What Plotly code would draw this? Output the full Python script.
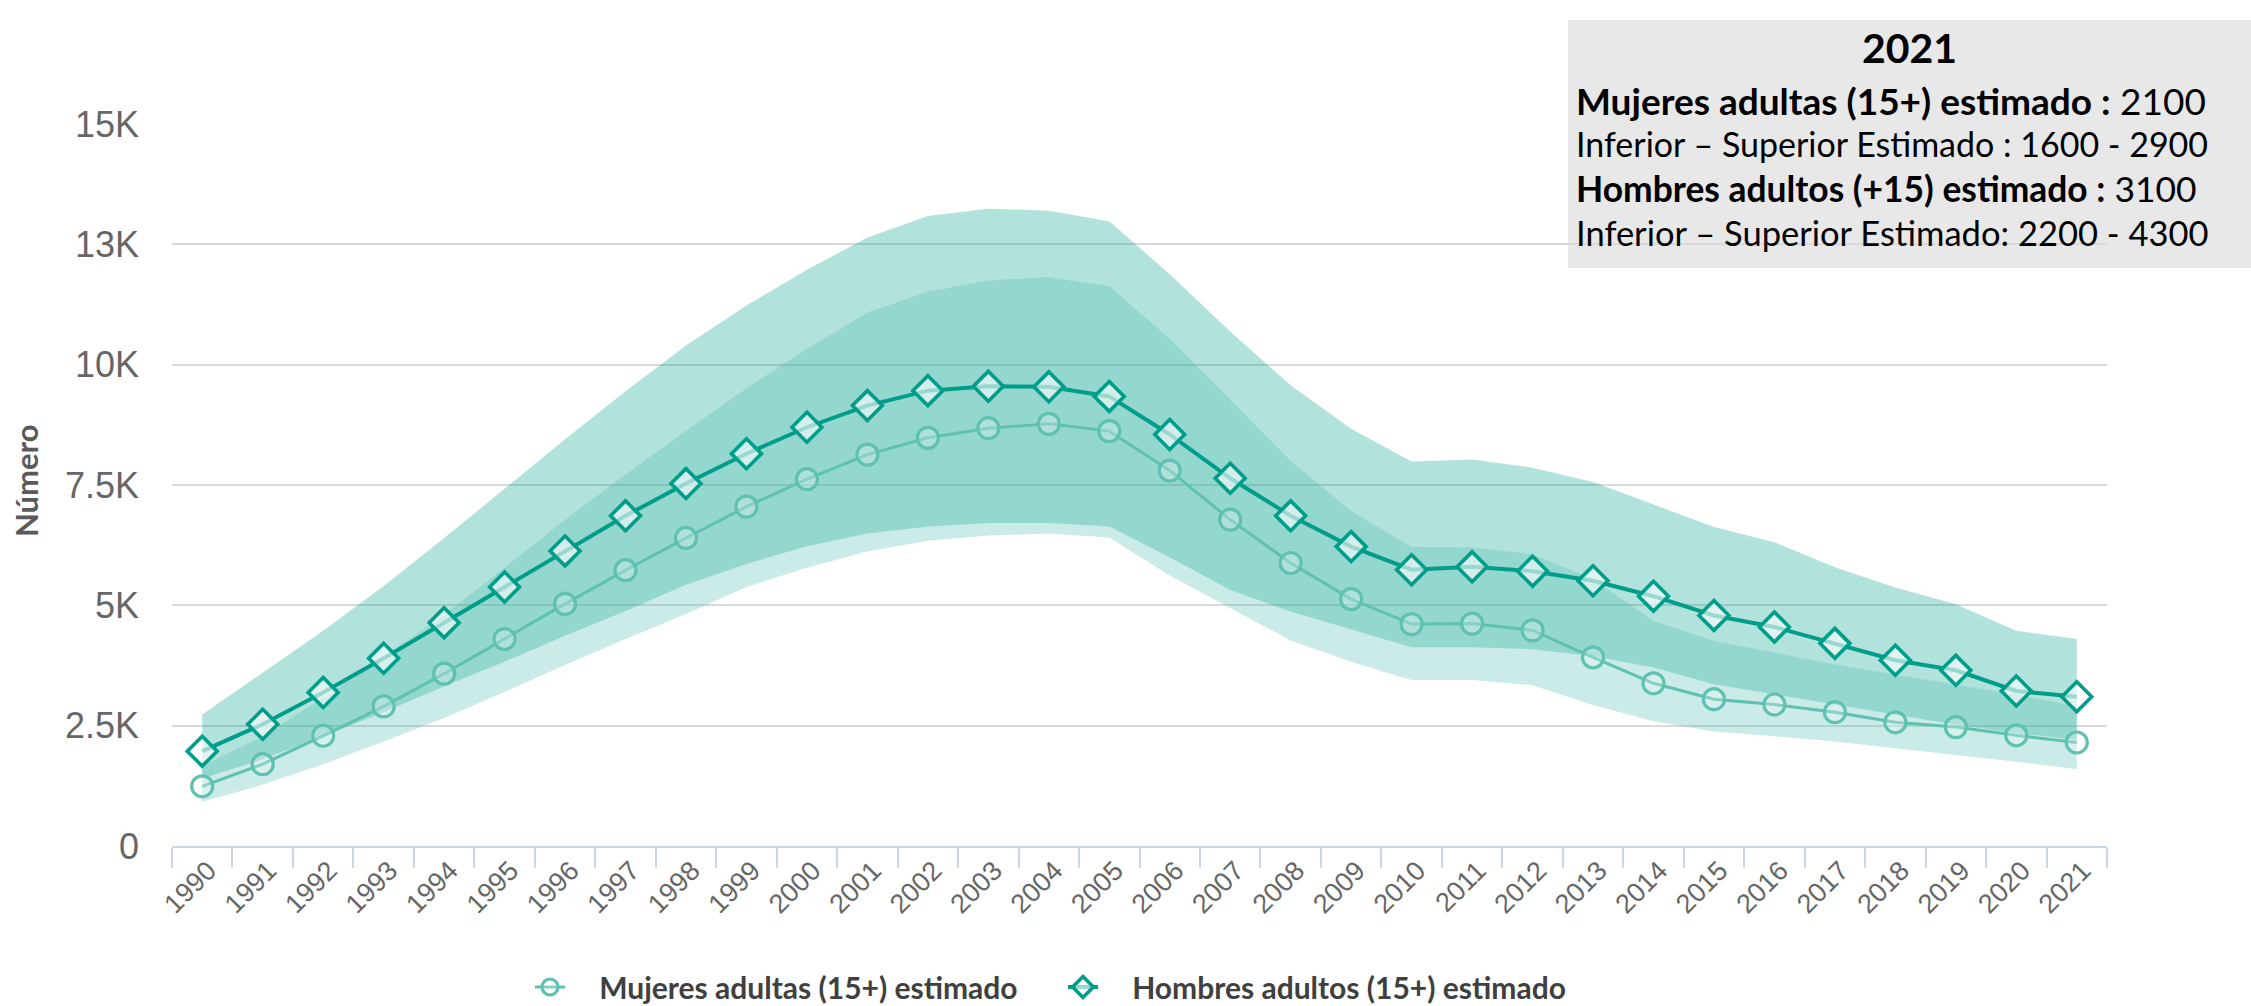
import plotly.graph_objects as go

# ---------------- data ----------------
years = list(range(1990, 2022))
year_labels = [str(y) for y in years]

women = [1240, 1700, 2290, 2900, 3580, 4300, 5030, 5730, 6400, 7050, 7620, 8130,
         8480, 8680, 8770, 8620, 7800, 6780, 5880, 5130, 4610, 4620, 4480, 3920,
         3380, 3050, 2940, 2780, 2570, 2470, 2300, 2150]
men = [1970, 2530, 3190, 3900, 4640, 5380, 6130, 6860, 7530, 8150, 8700, 9150,
       9460, 9550, 9540, 9340, 8550, 7640, 6860, 6220, 5740, 5800, 5710, 5510,
       5190, 4790, 4550, 4210, 3860, 3650, 3220, 3100]

women_lo = [920, 1270, 1700, 2170, 2660, 3200, 3760, 4300, 4820, 5380, 5780, 6120,
            6340, 6450, 6490, 6410, 5620, 4950, 4270, 3830, 3450, 3450, 3340, 2930,
            2590, 2380, 2280, 2170, 2030, 1890, 1750, 1600]
women_hi = [1660, 2280, 3080, 3920, 4800, 5780, 6780, 7720, 8620, 9510, 10330, 11080,
            11520, 11750, 11820, 11630, 10540, 9270, 8000, 6960, 6210, 6200, 6060, 5540,
            4680, 4260, 4020, 3770, 3560, 3350, 3150, 2900]
men_lo = [1400, 1800, 2280, 2780, 3320, 3830, 4370, 4880, 5430, 5860, 6230, 6490,
          6640, 6710, 6710, 6640, 6000, 5320, 4870, 4500, 4130, 4130, 4090, 3940,
          3710, 3360, 3150, 2940, 2730, 2520, 2350, 2200]
men_hi = [2730, 3600, 4470, 5400, 6400, 7420, 8450, 9450, 10400, 11230, 11970, 12640,
          13090, 13240, 13200, 12980, 11880, 10690, 9570, 8670, 7990, 8030, 7860, 7560,
          7100, 6630, 6310, 5790, 5370, 5020, 4470, 4300]

y_tickvals = [0, 2500, 5000, 7500, 10000, 12500, 15000]
y_ticktext = ["0", "2.5K", "5K", "7.5K", "10K", "13K", "15K"]

name_women = "Mujeres adultas (15+) estimado"
name_men = "Hombres adultos (15+) estimado"
box_title = "2021"
box_lines = [
    "<b>Mujeres adultas (15+) estimado :</b> 2100",
    "Inferior – Superior Estimado : 1600 - 2900",
    "<b>Hombres adultos (+15) estimado :</b> 3100",
    "Inferior – Superior Estimado: 2200 - 4300",
]

# ---------------- geometry helpers ----------------
W, H = 2251, 1006
L, R, T, B = 172, 144, 124, 160
PW = W - L - R
PH = H - T - B


def px(x):
    return (x - L) / PW


def py(y):
    return (H - B - y) / PH


MEN_C = "#009e8a"
WOMEN_C = "#5fc1b1"
TXT_FONT = "Lato, 'Noto Sans', sans-serif"
LEG_PAD = "\u00a0" * 4

fig = go.Figure()

fig.add_trace(go.Scatter(
    x=year_labels + year_labels[::-1], y=men_hi + men_lo[::-1],
    fill="toself", fillcolor="rgba(0,158,138,0.30)", mode="lines",
    line=dict(width=0), hoverinfo="skip", showlegend=False))
fig.add_trace(go.Scatter(
    x=year_labels + year_labels[::-1], y=women_hi + women_lo[::-1],
    fill="toself", fillcolor="rgba(80,190,175,0.30)", mode="lines",
    line=dict(width=0), hoverinfo="skip", showlegend=False))

fig.add_trace(go.Scatter(
    x=year_labels, y=women, name=LEG_PAD + name_women, mode="lines+markers",
    line=dict(color=WOMEN_C, width=3),
    marker=dict(symbol="circle", size=21, color="rgba(255,255,255,0.25)",
                line=dict(color=WOMEN_C, width=3.2))))
fig.add_trace(go.Scatter(
    x=year_labels, y=men, name=LEG_PAD + name_men, mode="lines+markers",
    line=dict(color=MEN_C, width=4),
    marker=dict(symbol="diamond", size=23, color="rgba(255,255,255,0.6)",
                line=dict(color=MEN_C, width=3.6))))

fig.update_layout(
    width=W, height=H,
    margin=dict(l=L, r=R, t=T, b=B, autoexpand=False),
    paper_bgcolor="white", plot_bgcolor="rgba(0,0,0,0)",
    xaxis=dict(
        type="category", categoryorder="array", categoryarray=year_labels,
        range=[-0.5, 31.5], tickson="boundaries", ticks="outside", ticklen=20,
        tickwidth=2, tickcolor="#ccd6eb", showline=True, linecolor="#ccd6eb",
        linewidth=2, showgrid=False, tickangle=-45,
        ticklabelshift=6, ticklabelstandoff=-4,
        tickfont=dict(family="'Liberation Sans', Arial, sans-serif", size=27, color="#666666"),
    ),
    yaxis=dict(
        range=[0, 15000], tickvals=y_tickvals, ticktext=y_ticktext,
        showgrid=True, gridcolor="#d9d9d9", gridwidth=2, zeroline=False,
        showline=False, ticks="", ticklabelstandoff=32,
        tickfont=dict(family="'Liberation Sans', Arial, sans-serif", size=36, color="#666666"),
    ),
    legend=dict(
        orientation="h", x=px(530), xanchor="left", y=py(987), yanchor="middle",
        font=dict(family=TXT_FONT, size=30, color="#404040", weight="bold"),
        itemwidth=30, entrywidth=488, entrywidthmode="pixels",
        bgcolor="rgba(0,0,0,0)",
    ),
    showlegend=True,
)

# annotation box
fig.add_shape(type="rect", xref="paper", yref="paper",
              x0=px(1568), x1=px(2251), y0=py(268), y1=py(20),
              fillcolor="#e8e8e8", line=dict(width=0), layer="below")
fig.add_annotation(xref="paper", yref="paper", x=px(1909), y=py(47),
                   text="<b>" + box_title + "</b>", showarrow=False,
                   xanchor="center", yanchor="middle",
                   font=dict(family=TXT_FONT, size=41, color="#000000"))
for txt, yc, fs in zip(box_lines, [100, 144, 188, 232], [37, 34, 35.4, 34.5]):
    fig.add_annotation(xref="paper", yref="paper", x=px(1574), y=py(yc),
                       text=txt, showarrow=False, xanchor="left", yanchor="middle",
                       font=dict(family=TXT_FONT, size=fs, color="#000000"))

# y axis title
fig.add_annotation(xref="paper", yref="paper", x=px(26), y=py(481),
                   text="<b>Número</b>", showarrow=False, textangle=-90,
                   xanchor="center", yanchor="middle",
                   font=dict(family=TXT_FONT, size=31, color="#595959"))

fig.write_html("out.html",
               config={"displayModeBar": False},
               post_script="document.body.style.margin='0';document.body.style.padding='0';")
